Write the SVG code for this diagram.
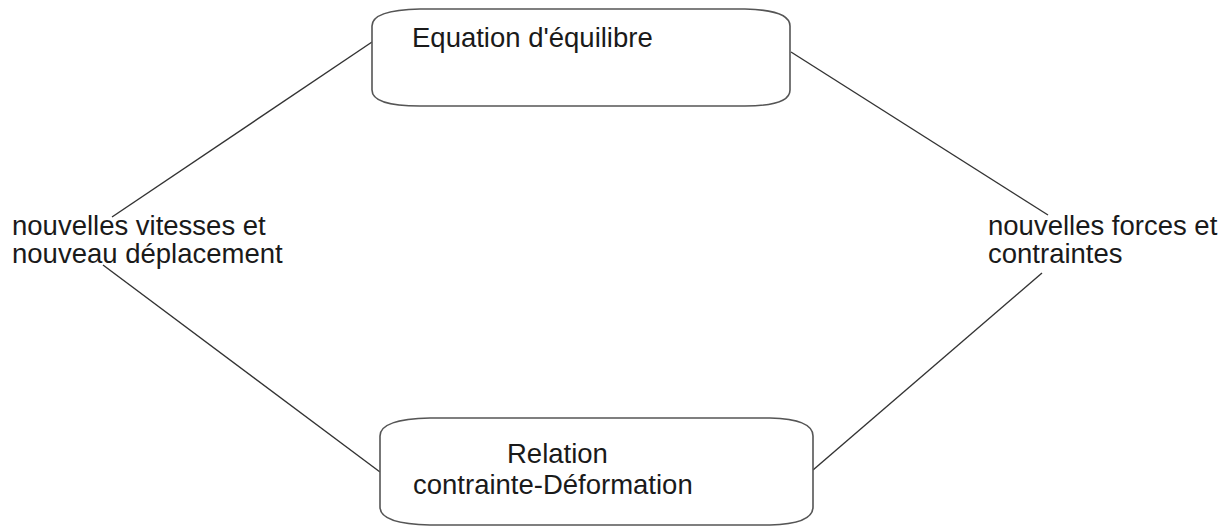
<svg xmlns="http://www.w3.org/2000/svg" width="1226" height="527" viewBox="0 0 1226 527">
<style>
.box{fill:#fff;stroke:#555;stroke-width:1.6}
.t{font-family:"Liberation Sans",Arial,sans-serif;font-size:27.5px;fill:#1a1a1a}
.c{stroke:#333;stroke-width:1.4;fill:none}
</style>
<rect width="1226" height="527" fill="#fff"/>
<g id="connectors">
<line class="c" x1="372" y1="42" x2="112" y2="217"/>
<line class="c" x1="791" y1="52" x2="1048" y2="215"/>
<line class="c" x1="103" y1="265" x2="380" y2="472"/>
<line class="c" x1="813" y1="470" x2="1042" y2="273"/>
</g>
<g id="equilibre">
<path class="box" d="M372,26 Q372,10 420,9 L745,9 Q790,10 790,26 L790,90 Q790,106 745,106 L420,106 Q372,106 372,90 Z"/>
<text class="t" x="412" y="47">Equation d'équilibre</text>
</g>
<g id="relation">
<path class="box" d="M380,436 Q380,419 430,418 L770,418 Q813,419 813,436 L813,507 Q813,524 770,525 L430,525 Q380,524 380,507 Z"/>
<text class="t" x="507" y="463">Relation</text>
<text class="t" x="413" y="494">contrainte-Déformation</text>
</g>
<g id="vitesses">
<text class="t" x="12" y="235">nouvelles vitesses et</text>
<text class="t" x="12" y="263">nouveau déplacement</text>
</g>
<g id="forces">
<text class="t" x="988" y="235">nouvelles forces et</text>
<text class="t" x="988" y="263">contraintes</text>
</g>
</svg>
